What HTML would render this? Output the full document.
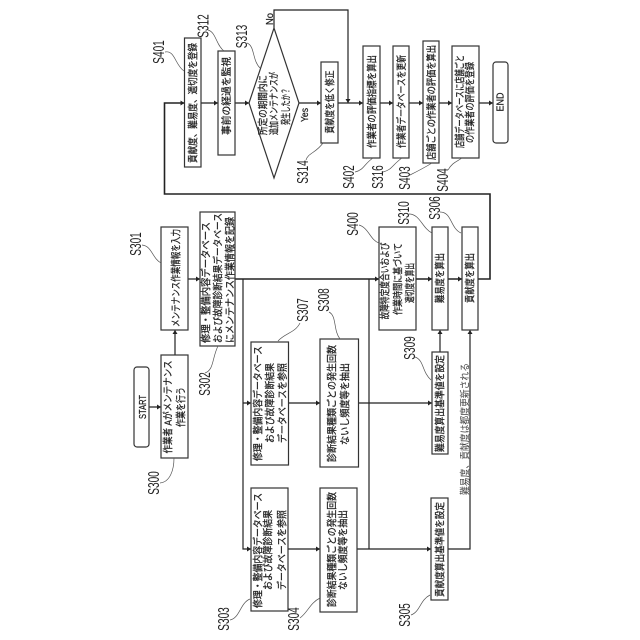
<!DOCTYPE html>
<html lang="ja"><head><meta charset="utf-8"><style>
html,body{margin:0;padding:0;background:#fff}
svg{display:block}
text{font-family:"Liberation Sans","Noto Sans CJK JP",sans-serif;fill:#222;text-anchor:middle}
.t{font-size:10px}
.t text{stroke:#222;stroke-width:.25}
.l{font-size:16px}
.b{fill:#fff;stroke:#333;stroke-width:1.2}
.c{fill:none;stroke:#222;stroke-width:1.2}
.k{fill:none;stroke:#222;stroke-width:1.6}
.h{fill:none;stroke:#555;stroke-width:.7}
.a{fill:#222;stroke:none}
</style></head><body>
<svg width="640" height="640" viewBox="0 0 640 640" xmlns="http://www.w3.org/2000/svg">
<rect width="640" height="640" fill="#fff"/>
<!-- connectors -->
<path class="k" d="M235 279H379M416 279H432M448 279H462M478 279H490V194H164.5V103H184.5"/>
<path class="c" d="M201 103H218M235 103H249M299 103H321M338 103H363M380 103H393M409 103H423M439 103H452M479 103H493"/>
<path class="c" d="M274 28V10H348V103"/>
<path class="c" d="M149 407H161M175 355V330M188 279H200"/>
<path class="c" d="M243 279V549H251M243 403H251M288 403H320M288 549H320"/>
<path class="c" d="M369 279V549M358 403H432M357 549H431M440 352V330M448 549H470V330"/>
<!-- arrowheads -->
<path class="a" d="M184.5 103l-4-2.500v5zM218 103l-4-2.500v5zM249 103l-4-2.500v5zM321 103l-4-2.500v5zM363 103l-4-2.500v5zM393 103l-4-2.500v5zM423 103l-4-2.500v5zM452 103l-4-2.500v5zM493 103l-4-2.500v5z"/>
<path class="a" d="M348 103l-2.500-4h5zM161 407l-4-2.500v5zM200 279l-4-2.500v5zM175 330l-2.500 4h5zM251 403l-4-2.500v5zM251 549l-4-2.500v5zM320 403l-4-2.500v5zM320 549l-4-2.500v5z"/>
<path class="a" d="M379 279l-4-2.500v5zM432 279l-4-2.500v5zM462 279l-4-2.500v5zM432 403l-4-2.500v5zM431 549l-4-2.500v5zM440 330l-2.500 4h5zM470 330l-2.500 4h5z"/>
<!-- shapes -->
<rect class="b" x="134" y="367" width="15" height="80" rx="3"/>
<rect class="b" x="161" y="355" width="27" height="103"/>
<rect class="b" x="161" y="227" width="27" height="103"/>
<rect class="b" x="200" y="212" width="35" height="134"/>
<rect class="b" x="251" y="342" width="37.500" height="123"/>
<rect class="b" x="251" y="488" width="37" height="123"/>
<rect class="b" x="320" y="339" width="38.500" height="128"/>
<rect class="b" x="320" y="488" width="37" height="124"/>
<rect class="b" x="379" y="227" width="37" height="103"/>
<rect class="b" x="432" y="227" width="16" height="103"/>
<rect class="b" x="462" y="227" width="16" height="103"/>
<rect class="b" x="432" y="352" width="16" height="102"/>
<rect class="b" x="431" y="498" width="17" height="102"/>
<rect class="b" x="184.500" y="38" width="16.500" height="129"/>
<rect class="b" x="218" y="51" width="17" height="104"/>
<polygon class="b" points="249,103 274,28 299,103 274,178"/>
<rect class="b" x="321" y="62" width="17" height="81"/>
<rect class="b" x="363" y="46" width="17" height="112"/>
<rect class="b" x="393" y="46" width="16" height="112"/>
<rect class="b" x="423" y="41" width="16" height="122"/>
<rect class="b" x="452" y="46" width="27" height="112"/>
<rect class="b" x="493" y="62" width="15" height="81" rx="3"/>
<!-- leaders -->
<path class="h" d="M165 52C175 50 175 65 184 71M208 30C216 32 216 45 224 51M247 43C255 46 252 60 260 68M306 160C308 153 316 153 323 143M355 172C364 170 364 164 373 158M383 172C392 170 393 164 402 158M410 175C420 170 424 168 432 163M448 170C452 163 456 162 462 158"/>
<path class="h" d="M142 245C152 246 152 258 161 263M205 373C214 370 212 358 218 346M300 323C295 333 285 333 278 341M329 312C337 316 333 330 340 339M359 225C369 228 370 240 379 243M409 214C420 214 422 228 432 233M440 212C452 212 450 228 461 233M415 357C424 360 422 372 431 380M160 483C170 482 174 470 174 458M230 620C240 618 240 603 250 599M300 618C308 612 310 603 320 598M411 615C420 612 420 600 430 595"/>
<!-- step labels -->
<text class="l" transform="translate(164,52) rotate(-90) scale(.63,1)">S401</text>
<text class="l" transform="translate(208.500,26) rotate(-90) scale(.63,1)">S312</text>
<text class="l" transform="translate(247,36.500) rotate(-90) scale(.63,1)">S313</text>
<text class="l" transform="translate(308,172) rotate(-90) scale(.63,1)">S314</text>
<text class="l" transform="translate(354,177) rotate(-90) scale(.63,1)">S402</text>
<text class="l" transform="translate(383,177) rotate(-90) scale(.63,1)">S316</text>
<text class="l" transform="translate(410,178) rotate(-90) scale(.63,1)">S403</text>
<text class="l" transform="translate(448,180) rotate(-90) scale(.63,1)">S404</text>
<text class="l" transform="translate(141,244) rotate(-90) scale(.63,1)">S301</text>
<text class="l" transform="translate(210,384) rotate(-90) scale(.63,1)">S302</text>
<text class="l" transform="translate(308,310) rotate(-90) scale(.63,1)">S307</text>
<text class="l" transform="translate(329,300) rotate(-90) scale(.63,1)">S308</text>
<text class="l" transform="translate(358,224) rotate(-90) scale(.63,1)">S400</text>
<text class="l" transform="translate(409,213) rotate(-90) scale(.63,1)">S310</text>
<text class="l" transform="translate(440,208) rotate(-90) scale(.63,1)">S306</text>
<text class="l" transform="translate(415,348) rotate(-90) scale(.63,1)">S309</text>
<text class="l" transform="translate(159,483) rotate(-90) scale(.63,1)">S300</text>
<text class="l" transform="translate(229,619) rotate(-90) scale(.63,1)">S303</text>
<text class="l" transform="translate(299,619) rotate(-90) scale(.63,1)">S304</text>
<text class="l" transform="translate(410,615) rotate(-90) scale(.63,1)">S305</text>
<!-- box text -->
<g class="t">
<text transform="translate(146,407) rotate(-90)" textLength="24" lengthAdjust="spacingAndGlyphs">START</text>
<text transform="translate(503.500,102) rotate(-90)" textLength="19" lengthAdjust="spacingAndGlyphs">END</text>
<text transform="translate(171.500,407) rotate(-90)" textLength="93" lengthAdjust="spacingAndGlyphs">作業者 Aがメンテナンス</text>
<text transform="translate(184.500,407) rotate(-90)" textLength="40" lengthAdjust="spacingAndGlyphs">作業を行う</text>
<text transform="translate(179.500,278) rotate(-90)" textLength="98" lengthAdjust="spacingAndGlyphs">メンテナンス作業情報を入力</text>
<text transform="translate(209.500,282.500) rotate(-90)" textLength="121" lengthAdjust="spacingAndGlyphs">修理・整備内容データベース</text>
<text transform="translate(221.500,278) rotate(-90)" textLength="130" lengthAdjust="spacingAndGlyphs">および故障診断結果データベース</text>
<text transform="translate(233.500,280) rotate(-90)" textLength="126" lengthAdjust="spacingAndGlyphs">にメンテナンス作業情報を記録</text>
<text transform="translate(261.500,403.500) rotate(-90)" textLength="115" lengthAdjust="spacingAndGlyphs">修理・整備内容データベース</text>
<text transform="translate(273.500,403) rotate(-90)" textLength="80" lengthAdjust="spacingAndGlyphs">および故障診断結果</text>
<text transform="translate(286,403) rotate(-90)" textLength="80" lengthAdjust="spacingAndGlyphs">データベースを参照</text>
<text transform="translate(261.500,550.500) rotate(-90)" textLength="115" lengthAdjust="spacingAndGlyphs">修理・整備内容データベース</text>
<text transform="translate(271.500,550) rotate(-90)" textLength="80" lengthAdjust="spacingAndGlyphs">および故障診断結果</text>
<text transform="translate(285.500,550) rotate(-90)" textLength="80" lengthAdjust="spacingAndGlyphs">データベースを参照</text>
<text transform="translate(335.500,403.500) rotate(-90)" textLength="117" lengthAdjust="spacingAndGlyphs">診断結果種類ごとの発生回数</text>
<text transform="translate(348.500,404) rotate(-90)" textLength="82" lengthAdjust="spacingAndGlyphs">ないし頻度等を抽出</text>
<text transform="translate(335.500,549.500) rotate(-90)" textLength="115" lengthAdjust="spacingAndGlyphs">診断結果種類ごとの発生回数</text>
<text transform="translate(346.500,550) rotate(-90)" textLength="80" lengthAdjust="spacingAndGlyphs">ないし頻度等を抽出</text>
<text transform="translate(388.500,281) rotate(-90)" textLength="77" lengthAdjust="spacingAndGlyphs">故障特定度合いおよび</text>
<text transform="translate(401.500,279) rotate(-90)" textLength="72" lengthAdjust="spacingAndGlyphs">作業時間に基づいて</text>
<text transform="translate(413.500,283) rotate(-90)" textLength="40" lengthAdjust="spacingAndGlyphs">適切度を算出</text>
<text transform="translate(443.500,278) rotate(-90)" textLength="50" lengthAdjust="spacingAndGlyphs">難易度を算出</text>
<text transform="translate(473.500,278) rotate(-90)" textLength="50" lengthAdjust="spacingAndGlyphs">貢献度を算出</text>
<text transform="translate(443.500,403.500) rotate(-90)" textLength="97" lengthAdjust="spacingAndGlyphs">難易度算出基準値を設定</text>
<text transform="translate(443.500,549.500) rotate(-90)" textLength="95" lengthAdjust="spacingAndGlyphs">貢献度算出基準値を設定</text>
<text transform="translate(468.500,429) rotate(-90)" textLength="132" lengthAdjust="spacingAndGlyphs" style="stroke-width:0;fill:#444">難易度、貢献度は都度更新される</text>
<text transform="translate(196.500,103) rotate(-90)" textLength="120" lengthAdjust="spacingAndGlyphs">貢献度、難易度、適切度を登録</text>
<text transform="translate(230,96) rotate(-90)" textLength="78" lengthAdjust="spacingAndGlyphs">事前の経過を監視</text>
<text transform="translate(266.500,105) rotate(-90)" textLength="60" lengthAdjust="spacingAndGlyphs">所定の期間内に</text>
<text transform="translate(277.500,103.500) rotate(-90)" textLength="63" lengthAdjust="spacingAndGlyphs">追加メンテナンスが</text>
<text transform="translate(289.500,106.500) rotate(-90)" textLength="37" lengthAdjust="spacingAndGlyphs">発生したか？</text>
<text transform="translate(333.500,102) rotate(-90)" textLength="63" lengthAdjust="spacingAndGlyphs">貢献度を低く修正</text>
<text transform="translate(375.500,101.500) rotate(-90)" textLength="93" lengthAdjust="spacingAndGlyphs">作業者の評価指標を算出</text>
<text transform="translate(405,101.500) rotate(-90)" textLength="93" lengthAdjust="spacingAndGlyphs">作業者データベースを更新</text>
<text transform="translate(435,102.500) rotate(-90)" textLength="115" lengthAdjust="spacingAndGlyphs">店舗ごとの作業者の評価を算出</text>
<text transform="translate(463.500,101.500) rotate(-90)" textLength="93" lengthAdjust="spacingAndGlyphs">店舗データベースに店舗ごと</text>
<text transform="translate(473.500,102.500) rotate(-90)" textLength="81" lengthAdjust="spacingAndGlyphs">の作業者の評価を登録</text>
<text transform="translate(308,115) rotate(-90)" textLength="14" lengthAdjust="spacingAndGlyphs">Yes</text>
<text transform="translate(273,19) rotate(-90)" textLength="12" lengthAdjust="spacingAndGlyphs">No</text>
</g>
</svg>
</body></html>
